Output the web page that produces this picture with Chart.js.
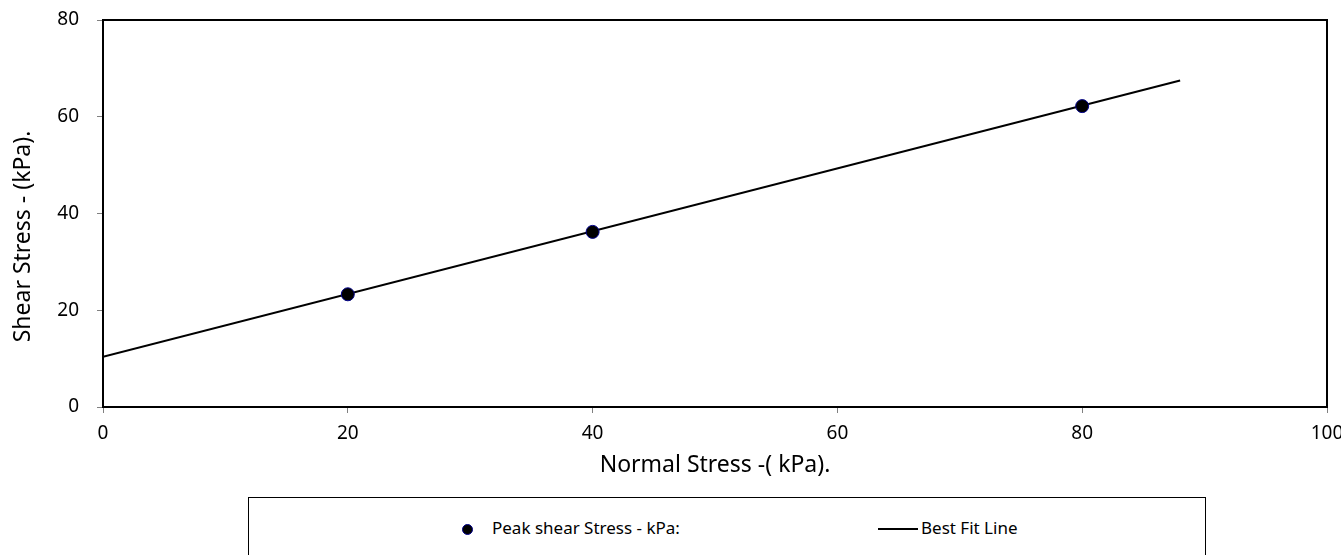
<!DOCTYPE html>
<html><head><meta charset="utf-8">
<script src="https://cdn.jsdelivr.net/npm/chart.js@4.4.1/dist/chart.umd.min.js"></script>
<style>
html,body{margin:0;padding:0;background:#fff;overflow:hidden}
#wrap{position:relative;width:1341px;height:555px;background:#fff}
#c{position:absolute;left:0;top:0}
#legend{position:absolute;left:248px;top:497px;width:958px;height:80px;border:1px solid #000;box-sizing:border-box;font-family:"Noto Sans",sans-serif;font-size:17px;color:#000;background:#fff}
.lg-item{position:absolute;top:31px;height:0;white-space:nowrap}
.lg-mark{position:absolute;width:11px;height:11px;border-radius:50%;background:#000;border:1px solid #00008B;box-sizing:border-box;top:-5px}
.lg-line{position:absolute;width:40px;height:2px;background:#000;top:-1px}
.lg-text{position:absolute;line-height:20px;top:-11px}
</style></head>
<body><div id="wrap"><canvas id="c" width="1341" height="555"></canvas><div id="legend"></div></div>
<script>
// ---- data ----
const seriesNames = ["Peak shear Stress - kPa:", "Best Fit Line"];
const normalStress = [20, 40, 80];
const peakShear = [23.3, 36.2, 62.2];
const fitX = [0, 88];
const fitY = [10.4, 67.5];
const xTicks = [0, 20, 40, 60, 80, 100];
const yTicks = [0, 20, 40, 60, 80];
const xTitle = "Normal Stress -( kPa).";
const yTitle = "Shear Stress - (kPa).";

Chart.defaults.font.family = "'Noto Sans', sans-serif";
Chart.defaults.color = '#000';

const plotBorder = {
  id: 'plotBorder',
  beforeDatasetsDraw(chart) {
    const {ctx, chartArea: a} = chart;
    ctx.save();
    ctx.strokeStyle = '#000';
    ctx.lineWidth = 2;
    ctx.strokeRect(a.left, a.top, a.right - a.left, a.bottom - a.top);
    ctx.restore();
  }
};

// y-axis title, placed a little below the axis centre as in the reference
const yTitlePlugin = {
  id: 'yTitlePlugin',
  afterDraw(chart) {
    const {ctx, chartArea: a} = chart;
    ctx.save();
    ctx.font = "23px 'Noto Sans', sans-serif";
    ctx.fillStyle = '#000';
    ctx.textAlign = 'center';
    ctx.textBaseline = 'middle';
    ctx.translate(23, (a.top + a.bottom) / 2 + 23);
    ctx.rotate(-Math.PI / 2);
    ctx.fillText(yTitle, 0, 0);
    ctx.restore();
  }
};

new Chart(document.getElementById('c'), {
  type: 'scatter',
  data: {
    datasets: [
      {
        label: seriesNames[0],
        data: normalStress.map((x, i) => ({x: x, y: peakShear[i]})),
        backgroundColor: '#000',
        borderColor: '#00008B',
        borderWidth: 1,
        pointRadius: 6.5,
        pointHoverRadius: 6.5,
        order: 0
      },
      {
        label: seriesNames[1],
        type: 'line',
        data: fitX.map((x, i) => ({x: x, y: fitY[i]})),
        borderColor: '#000',
        borderWidth: 2,
        pointRadius: 0,
        fill: false,
        tension: 0,
        order: 1
      }
    ]
  },
  options: {
    responsive: false,
    animation: false,
    events: [],
    layout: {padding: {left: 9, top: 20, right: 14, bottom: 76}},
    plugins: {legend: {display: false}, tooltip: {enabled: false}},
    scales: {
      x: {
        type: 'linear', min: 0, max: 100,
        afterBuildTicks: s => { s.ticks = xTicks.map(v => ({value: v})); },
        afterFit: s => { s.height = 72; s.paddingLeft = 0; s.paddingRight = 0; },
        ticks: {font: {size: 19}, padding: 9, color: '#000', maxRotation: 0},
        grid: {display: true, drawOnChartArea: false, drawTicks: true, tickLength: 6, color: '#808080', lineWidth: 1},
        border: {display: true, color: '#000', width: 2},
        title: {display: true, text: xTitle, font: {size: 23}, color: '#000', padding: 0}
      },
      y: {
        type: 'linear', min: 0, max: 80,
        afterBuildTicks: s => { s.ticks = yTicks.map(v => ({value: v})); },
        afterFit: s => { s.width = 94; s.paddingTop = 0; s.paddingBottom = 0; },
        ticks: {font: {size: 19}, padding: 18, color: '#000'},
        grid: {display: true, drawOnChartArea: false, drawTicks: true, tickLength: 6, color: '#808080', lineWidth: 1},
        border: {display: true, color: '#000', width: 2},
        title: {display: false, text: yTitle}
      }
    }
  },
  plugins: [plotBorder, yTitlePlugin]
});

// HTML legend built from series names
const lg = document.getElementById('legend');
const it1 = document.createElement('div');
it1.className = 'lg-item'; it1.style.left = '213px';
it1.innerHTML = '<span class="lg-mark" style="left:0"></span><span class="lg-text" style="left:30px"></span>';
it1.querySelector('.lg-text').textContent = seriesNames[0];
lg.appendChild(it1);
const it2 = document.createElement('div');
it2.className = 'lg-item'; it2.style.left = '629px';
it2.innerHTML = '<span class="lg-line" style="left:0"></span><span class="lg-text" style="left:43px"></span>';
it2.querySelector('.lg-text').textContent = seriesNames[1];
lg.appendChild(it2);
</script>
</body></html>
